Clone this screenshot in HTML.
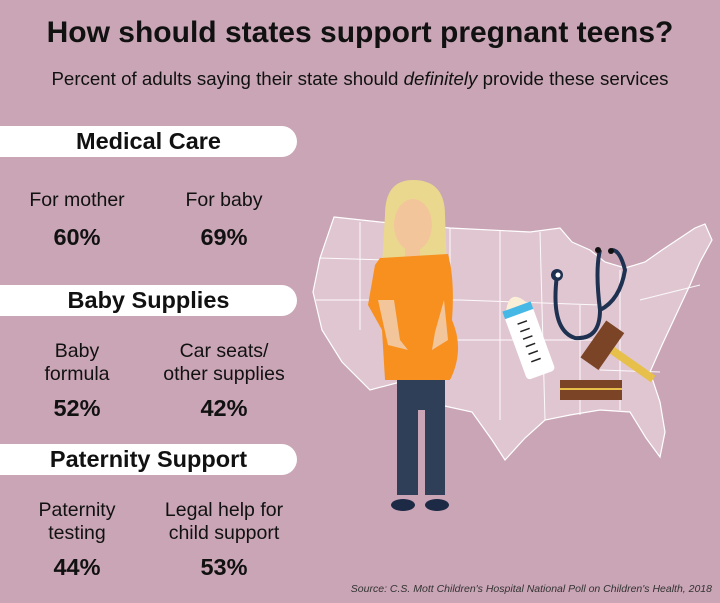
<!DOCTYPE html><html><head><style>
body{margin:0;width:720px;height:603px;background:#c9a5b5;font-family:"Liberation Sans",sans-serif;position:relative;overflow:hidden;color:#111}
.a{position:absolute;text-align:center}
.bar{position:absolute;left:0;width:297px;height:31px;background:#fff;border-radius:0 16px 16px 0;font-weight:bold;font-size:23.5px;line-height:31px;text-align:center}
.l{font-size:19.5px;line-height:23px;width:150px}
.p{font-size:23.5px;font-weight:bold;width:150px}
</style></head><body>
<div class="a" style="left:0;width:720px;top:16px;font-size:30px;font-weight:bold">How should states support pregnant teens?</div>
<div class="a" style="left:0;width:720px;top:68px;font-size:18.7px">Percent of adults saying their state should <i>definitely</i> provide these services</div>
<div class="bar" style="top:126px">Medical Care</div>
<div class="a l" style="left:2px;top:189px">For mother</div><div class="a p" style="left:2px;top:224px">60%</div>
<div class="a l" style="left:149px;top:189px">For baby</div><div class="a p" style="left:149px;top:224px">69%</div>
<div class="bar" style="top:285px">Baby Supplies</div>
<div class="a l" style="left:2px;top:340px">Baby<br>formula</div><div class="a p" style="left:2px;top:395px">52%</div>
<div class="a l" style="left:149px;top:340px">Car seats/<br>other supplies</div><div class="a p" style="left:149px;top:395px">42%</div>
<div class="bar" style="top:444px">Paternity Support</div>
<div class="a l" style="left:2px;top:499px">Paternity<br>testing</div><div class="a p" style="left:2px;top:554px">44%</div>
<div class="a l" style="left:149px;top:499px">Legal help for<br>child support</div><div class="a p" style="left:149px;top:554px">53%</div>
<div class="a" style="right:8px;top:583px;font-size:10.5px;font-style:italic;color:#333">Source: C.S. Mott Children's Hospital National Poll on Children's Health, 2018</div>
<svg width="720" height="603" style="position:absolute;left:0;top:0">
<polygon fill="#e0c6d1" stroke="#fff" stroke-width="1.2" points="334,217 380,222 450,228 530,232 560,228 572,242 590,250 605,262 625,268 645,262 662,250 680,238 695,228 705,224 712,240 700,262 690,285 676,315 662,345 650,372 660,402 665,432 660,457 646,438 630,412 600,410 570,415 545,420 525,438 505,460 492,440 472,412 440,405 420,400 400,382 370,390 342,362 322,330 313,292 320,258"/>
<g stroke="#fff" stroke-width="1" fill="none" opacity=".9">
<path d="M320,258 L450,262 M316,300 L460,300 M450,228 L450,380 M500,230 L500,420 M540,232 L545,420 M460,300 L600,305 M450,340 L620,340 M580,305 L580,415 M620,270 L620,410 M640,300 L700,285 M600,370 L660,372 M360,222 L360,330 M400,300 L400,382"/>
</g>
<path d="M385,215 Q385,180 413,180 Q445,180 445,215 L448,300 L380,300 Z" fill="#ead88f"/>
<ellipse cx="413" cy="225" rx="19" ry="26" fill="#f3c59a"/>
<rect x="405" y="245" width="15" height="15" fill="#f3c59a"/>
<path d="M380,258 L448,254 Q455,280 452,320 Q465,350 450,380 L385,380 L382,330 L368,305 L375,265 Z" fill="#f7901e"/>
<path d="M378,300 L388,345 L408,350 L400,340 L394,300 Z" fill="#f3c59a"/>
<path d="M444,300 L448,340 L432,350 L435,332 Z" fill="#f3c59a"/>
<rect x="397" y="380" width="48" height="30" fill="#2f3f57"/>
<rect x="397" y="405" width="21" height="90" fill="#2f3f57"/>
<rect x="425" y="405" width="20" height="90" fill="#2f3f57"/>
<ellipse cx="403" cy="505" rx="12" ry="6" fill="#1d2a45"/><ellipse cx="437" cy="505" rx="12" ry="6" fill="#1d2a45"/>
<g transform="rotate(-20 525 330)"><rect x="510" y="310" width="30" height="68" rx="4" fill="#fff"/><rect x="510" y="305" width="30" height="8" fill="#45b8e6"/><path d="M514,305 Q525,285 536,305Z" fill="#fbeed6"/>
<g stroke="#222" stroke-width="1.5"><line x1="520" y1="322" x2="530" y2="322"/><line x1="520" y1="330" x2="530" y2="330"/><line x1="520" y1="338" x2="530" y2="338"/><line x1="520" y1="346" x2="530" y2="346"/><line x1="520" y1="354" x2="530" y2="354"/><line x1="520" y1="362" x2="530" y2="362"/></g></g>
<path d="M557,275 Q550,330 575,338 Q600,340 600,310 M600,310 Q620,300 625,270 Q620,250 612,250 M600,310 Q595,270 600,250" stroke="#1f3150" stroke-width="4" fill="none"/>
<circle cx="557" cy="275" r="6" fill="#1f3150"/><circle cx="558" cy="275" r="2.5" fill="#fff"/>
<circle cx="598" cy="250" r="3" fill="#111"/><circle cx="611" cy="251" r="3" fill="#111"/>
<rect x="560" y="380" width="62" height="20" fill="#7b4426"/><rect x="560" y="388" width="62" height="2" fill="#e6c04b"/>
<g transform="rotate(35 610 350)"><rect x="590" y="328" width="22" height="45" fill="#7b4426"/><rect x="612" y="345" width="50" height="8" fill="#e6c04b"/></g>
</svg>
</body></html>
